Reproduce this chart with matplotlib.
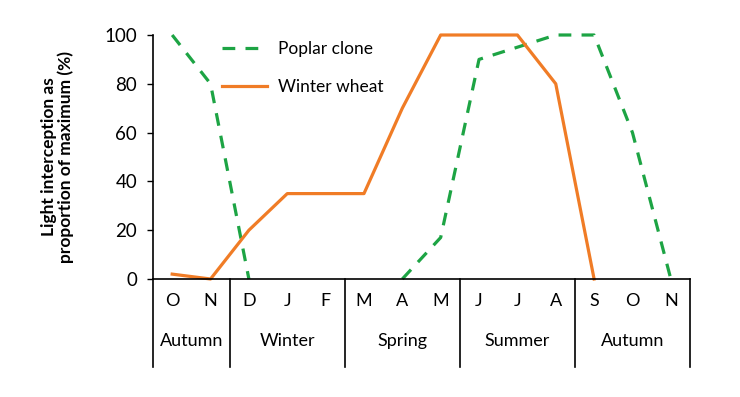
import matplotlib
matplotlib.use("Agg")
import matplotlib.pyplot as plt
import numpy as np

plt.rcParams['font.family'] = ['Lato', 'DejaVu Sans']

# data
months = ["O", "N", "D", "J", "F", "M", "A", "M", "J", "J", "A", "S", "O", "N"]
seasons = ["Autumn", "Winter", "Spring", "Summer", "Autumn"]
season_len = [2, 3, 3, 3, 3]
poplar = [100, 80, 0, None, None, None, 0, 17, 90, 95, 100, 100, 60, 0]
wheat = [2, 0, 20, 35, 35, 35, 70, 100, 100, 100, 80, 0, None, None]
yticks = [0, 20, 40, 60, 80, 100]

green = "#1da444"
orange = "#f07c26"

fig = plt.figure(figsize=(7.4, 3.97), dpi=100)
ax = fig.add_axes([153/740, 1 - 279/397, 537/740, 244/397])

x = np.arange(len(months)) + 0.5
p = np.array([np.nan if v is None else v for v in poplar], dtype=float)
w = np.array([np.nan if v is None else v for v in wheat], dtype=float)

ax.plot(x, p, color=green, lw=2.3, ls=(0, (4, 3.2)), clip_on=False, label="Poplar clone")
ax.plot(x, w, color=orange, lw=2.3, clip_on=False, label="Winter wheat")

ax.set_xlim(0, 14)
ax.set_ylim(0, 100)
ax.set_yticks(yticks)
ax.set_xticks([])
ax.tick_params(axis='y', length=4.5, width=1, pad=7, labelsize=13.5)
for s in ["top", "right"]:
    ax.spines[s].set_visible(False)
ax.spines["left"].set_linewidth(1.2)
ax.spines["bottom"].set_linewidth(1.2)

ax.set_ylabel("Light interception as\nproportion of maximum (%)", fontsize=12.5,
              fontweight="bold", labelpad=22, linespacing=1.0)

# month / season table under the axis
trans = ax.get_xaxis_transform()
edges = np.concatenate([[0], np.cumsum(season_len)])
for e in edges:
    ax.plot([e, e], [0, -0.36], transform=trans, color="black", lw=1.2, clip_on=False)
for xi, m in zip(x, months):
    ax.text(xi, -0.09, m, transform=trans, ha="center", va="center", fontsize=13)
for i, s in enumerate(seasons):
    ax.text((edges[i] + edges[i + 1]) / 2, -0.255, s, transform=trans,
            ha="center", va="center", fontsize=13)

leg = ax.legend(loc="upper left", bbox_to_anchor=(0.1, 1.038), frameon=False,
                fontsize=12.5, handlelength=2.6, labelspacing=1.25, handletextpad=0.6)

fig.savefig("out.png", dpi=100)
